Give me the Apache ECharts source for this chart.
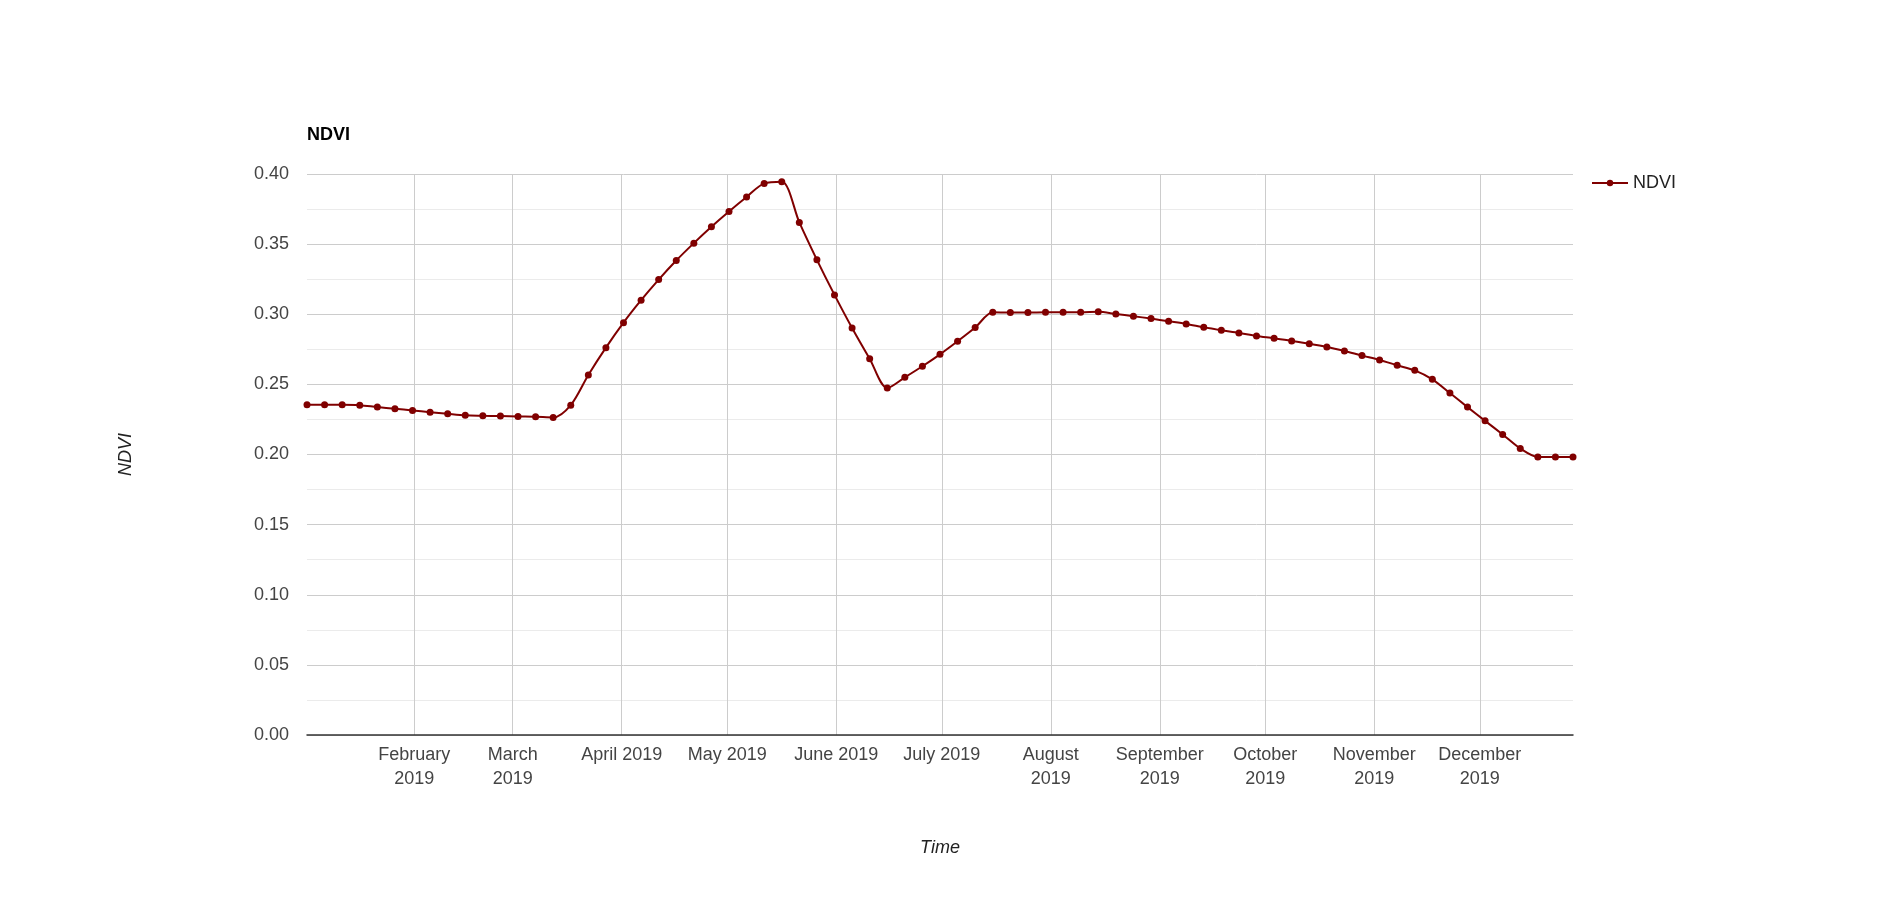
<!DOCTYPE html>
<html>
<head>
<meta charset="utf-8">
<script src="https://cdn.jsdelivr.net/npm/echarts@6/dist/echarts.min.js"></script>
<style>
html,body{margin:0;padding:0;background:#fff;}
#chart{width:1880px;height:909px;}
</style>
</head>
<body>
<div id="chart"></div>
<script>
// 5-day composite dates (timestamps at 12:00 of each day)
const dates = [
  '2019-01-01','2019-01-06','2019-01-11','2019-01-16','2019-01-21','2019-01-26','2019-01-31',
  '2019-02-05','2019-02-10','2019-02-15','2019-02-20','2019-02-25',
  '2019-03-02','2019-03-07','2019-03-12','2019-03-17','2019-03-22','2019-03-27',
  '2019-04-01','2019-04-06','2019-04-11','2019-04-16','2019-04-21','2019-04-26',
  '2019-05-01','2019-05-06','2019-05-11','2019-05-16','2019-05-21','2019-05-26','2019-05-31',
  '2019-06-05','2019-06-10','2019-06-15','2019-06-20','2019-06-25','2019-06-30',
  '2019-07-05','2019-07-10','2019-07-15','2019-07-20','2019-07-25','2019-07-30',
  '2019-08-04','2019-08-09','2019-08-14','2019-08-19','2019-08-24','2019-08-29',
  '2019-09-03','2019-09-08','2019-09-13','2019-09-18','2019-09-23','2019-09-28',
  '2019-10-03','2019-10-08','2019-10-13','2019-10-18','2019-10-23','2019-10-28',
  '2019-11-02','2019-11-07','2019-11-12','2019-11-17','2019-11-22','2019-11-27',
  '2019-12-02','2019-12-07','2019-12-12','2019-12-17','2019-12-22','2019-12-27'
];
const ndvi = [
  0.2355, 0.2355, 0.2355, 0.2352, 0.2338, 0.2326, 0.2314, 0.2302, 0.2290, 0.2279,
  0.2276, 0.2274, 0.2271, 0.2269, 0.2264,
  0.2352, 0.2567, 0.2762, 0.2940, 0.3100, 0.3247, 0.3383, 0.3507, 0.3624, 0.3733,
  0.3836, 0.3933, 0.3945,
  0.3655, 0.3388, 0.3138, 0.2902, 0.2683, 0.2474, 0.2550, 0.2629, 0.2714, 0.2807,
  0.2905, 0.3014, 0.3012, 0.3012, 0.3014, 0.3014, 0.3014, 0.3017, 0.3002, 0.2986,
  0.2969, 0.2950, 0.2931, 0.2907, 0.2886, 0.2867, 0.2845, 0.2829, 0.2810,
  0.2790, 0.2767, 0.2738, 0.2705, 0.2674, 0.2636, 0.2600, 0.2536, 0.2438, 0.2338,
  0.2240, 0.2143, 0.2043, 0.1983, 0.1983, 0.1983
];
const monthTicks = ['2019-02-01','2019-03-01','2019-04-01','2019-05-01','2019-06-01','2019-07-01',
  '2019-08-01','2019-09-01','2019-10-01','2019-11-01','2019-12-01'];
const monthLabels = ['February\n2019','March\n2019','April 2019','May 2019','June 2019','July 2019',
  'August\n2019','September\n2019','October\n2019','November\n2019','December\n2019'];

const FONT = 'Arial, "Liberation Sans", sans-serif';
const toTime = (d, t) => new Date(d + 'T' + t).getTime();
const labelMap = {};
monthTicks.forEach((d, i) => { labelMap[toTime(d, '00:00:00')] = monthLabels[i]; });
const data = dates.map((d, i) => [toTime(d, '12:00:00'), ndvi[i]]);
const DAY = 86400000;

const chart = echarts.init(document.getElementById('chart'));
chart.setOption({
  animation: false,
  backgroundColor: '#ffffff',
  title: {
    text: 'NDVI', left: 307, top: 126, padding: 0,
    textStyle: { fontFamily: FONT, fontSize: 18, fontWeight: 'bold', color: '#000' }
  },
  legend: {
    data: ['NDVI'], left: 1591, top: 174, padding: 0,
    itemWidth: 36, itemHeight: 8, itemGap: 5,
    itemStyle: { borderWidth: 0 },
    textStyle: { fontFamily: FONT, fontSize: 18, color: '#222' }
  },
  grid: { left: 307, right: 307, top: 174, bottom: 174, containLabel: false },
  xAxis: {
    type: 'time',
    min: data[0][0], max: data[data.length - 1][0],
    splitNumber: 12, minInterval: 28 * DAY, maxInterval: 31 * DAY,
    name: 'Time', nameLocation: 'middle', nameGap: 104,
    nameTextStyle: { fontFamily: FONT, fontSize: 18, fontStyle: 'italic', color: '#222' },
    axisLine: { show: true, lineStyle: { color: '#333', width: 1.5 } },
    axisTick: { show: false },
    axisLabel: {
      formatter: v => labelMap[v] || '',
      fontFamily: FONT, fontSize: 18, color: '#444', lineHeight: 24, margin: 8,
      hideOverlap: false, showMinLabel: false, showMaxLabel: false
    },
    splitLine: { show: true, showMinLine: false, showMaxLine: false, lineStyle: { color: '#cccccc', width: 1 } }
  },
  yAxis: {
    type: 'value', min: 0, max: 0.4, interval: 0.05,
    name: 'NDVI', nameLocation: 'middle', nameGap: 172, nameRotate: 90,
    nameTextStyle: { fontFamily: FONT, fontSize: 18, fontStyle: 'italic', color: '#222' },
    axisLine: { show: false },
    axisTick: { show: false },
    axisLabel: {
      formatter: v => v.toFixed(2),
      fontFamily: FONT, fontSize: 18, color: '#444', margin: 18
    },
    splitLine: { show: true, lineStyle: { color: '#cccccc', width: 1 } },
    minorTick: { show: false, splitNumber: 2 },
    minorSplitLine: { show: true, lineStyle: { color: '#ebebeb', width: 1 } }
  },
  series: [{
    name: 'NDVI', type: 'line', data: data,
    smooth: 0.3,
    symbol: 'circle', symbolSize: 7,
    lineStyle: { color: '#800000', width: 2 },
    itemStyle: { color: '#800000' }
  }]
});
</script>
</body>
</html>
